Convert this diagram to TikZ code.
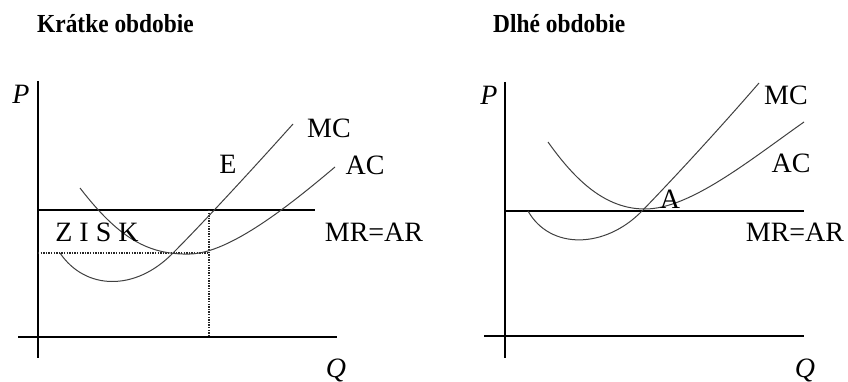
\documentclass[tikz,border=0pt]{standalone}
\usepackage{fontspec}
\setmainfont{Liberation Serif}
\begin{document}
\begin{tikzpicture}[x=1pt,y=-1pt,
  axis/.style={line width=1.3pt,black},
  curve/.style={line width=1pt,black!75},
  guide/.style={line width=1.3pt,dash pattern=on 1.3pt off 1.3pt,black!85},
  lbl/.style={inner sep=0pt,font=\fontsize{28}{30}\selectfont},
  axlbl/.style={inner sep=0pt,font=\fontsize{28}{30}\selectfont\itshape},
  ttl/.style={inner sep=0pt,anchor=base west,xscale=0.9,font=\fontsize{26}{28}\selectfont\bfseries}]
\useasboundingbox (0,0) rectangle (848,382);

% titles
\node[ttl] (t1) at (37,33) {Krátke obdobie};
\node[ttl] (t2) at (493,33) {Dlhé obdobie};

% ---------- left panel ----------
\draw[axis] (38,81) -- (38,358);
\draw[axis] (18,337) -- (337,337);
\draw[axis] (38,210) -- (315,210);
\draw[guide] (38,253) -- (209,253);
\draw[guide] (209,210) -- (209,337);
% MC
\draw[curve] (60,253) .. controls (85,290) and (135,292) .. (173,253)
             .. controls (200,226) and (250,172) .. (293,124);
% AC
\draw[curve] (80,188) .. controls (120,240) and (150,255) .. (190,254)
             .. controls (230,253) and (290,205) .. (335,167);
\node[axlbl] (p1) at (21,94) {P};
\node[axlbl] (q1) at (336,370) {Q};
\node[lbl] (mc1) at (329,128) {MC};
\node[lbl] (e1) at (228,164) {E};
\node[lbl] (ac1) at (365,165) {AC};
\node[lbl] (mr1) at (374,232) {MR=AR};
\node[lbl] (zisk) at (97,232) {Z I S K};

% ---------- right panel ----------
\draw[axis] (505,82) -- (505,358);
\draw[axis] (484,336) -- (804,336);
\draw[axis] (505,211) -- (804,211);
% MC
\draw[curve] (528,211) .. controls (550,250) and (605,249) .. (642,211)
             .. controls (675,177) and (720,128) .. (759,83);
% AC
\draw[curve] (548,142) .. controls (575,180) and (605,209) .. (645,209)
             .. controls (690,209) and (750,160) .. (804,122);
\node[axlbl] (p2) at (489,95) {P};
\node[axlbl] (q2) at (805,370) {Q};
\node[lbl] (mc2) at (786,95) {MC};
\node[lbl] (ac2) at (791,163) {AC};
\node[lbl] (a2) at (670,199) {A};
\node[lbl] (mr2) at (795,232) {MR=AR};
\end{tikzpicture}
\end{document}
